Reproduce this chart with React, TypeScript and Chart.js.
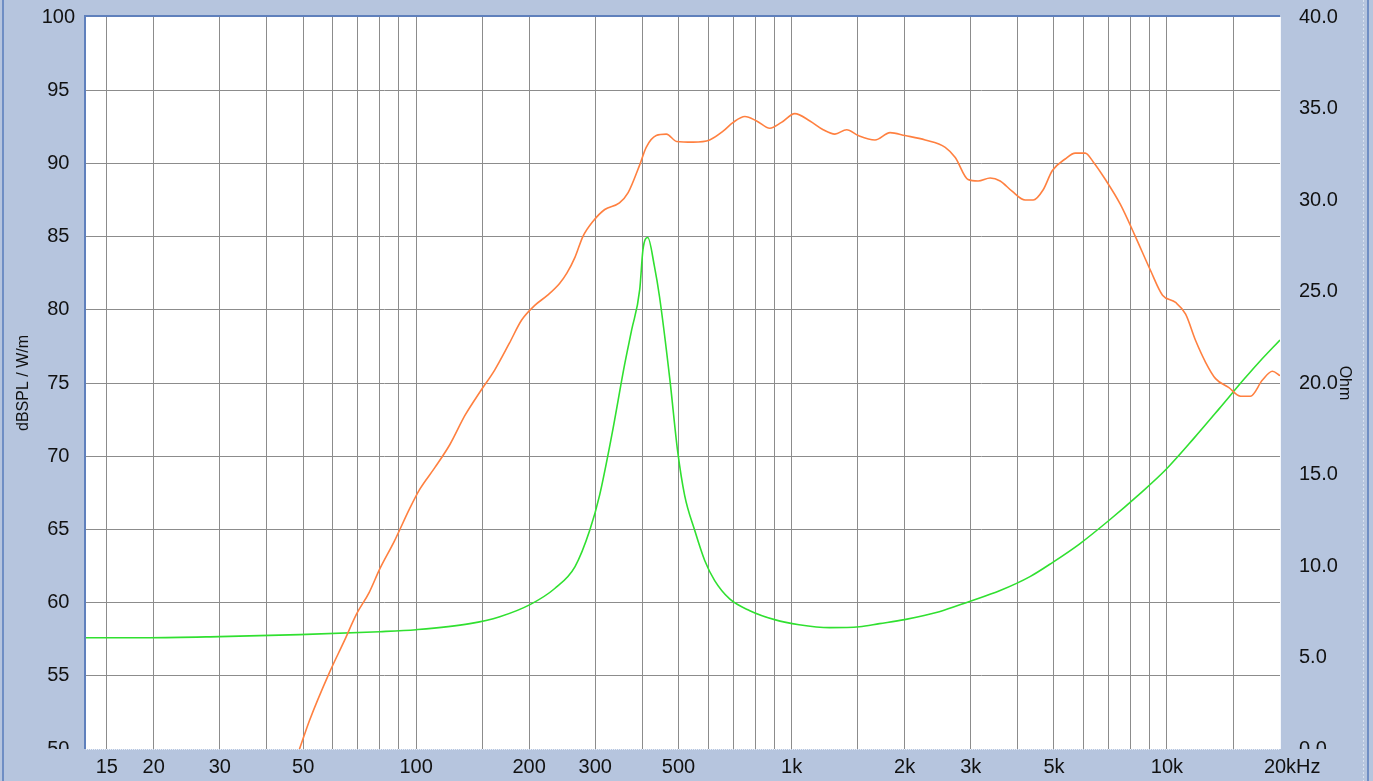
import React, { useEffect, useRef } from 'react';
import { Chart, registerables } from 'chart.js';

Chart.register(...registerables);

// ---- data ----
const splFreq = [47, 48.9, 51.9, 58.7, 64.4, 69.3, 75, 80, 87.5, 96, 102, 112, 123, 135, 148, 162, 177, 191, 207, 224, 241, 252, 265, 278, 296, 318, 348, 367, 394, 410, 436, 464, 494, 547, 605, 657, 699, 751, 807, 875, 940, 1020, 1119, 1214, 1304, 1402, 1506, 1668, 1829, 2006, 2270, 2566, 2729, 2951, 3140, 3381, 3594, 3866, 4188, 4403, 4680, 4946, 5357, 5697, 6056, 6362, 6853, 7514, 8239, 9034, 9729, 10540, 11210, 11918, 12680, 13470, 14590, 15710, 16680, 17960, 19090, 20000];
const splDb = [48.8, 50.0, 51.9, 55.2, 57.4, 59.2, 60.7, 62.3, 64.2, 66.4, 67.7, 69.2, 70.8, 72.8, 74.4, 75.9, 77.7, 79.3, 80.3, 81.0, 81.8, 82.5, 83.6, 85.0, 86.05, 86.85, 87.3, 88.0, 89.9, 91.1, 91.9, 92.0, 91.5, 91.45, 91.6, 92.2, 92.8, 93.2, 92.9, 92.4, 92.8, 93.4, 92.9, 92.3, 92.0, 92.3, 91.9, 91.6, 92.1, 91.9, 91.6, 91.1, 90.4, 88.9, 88.8, 89.0, 88.8, 88.1, 87.5, 87.5, 88.2, 89.5, 90.3, 90.7, 90.7, 90.1, 88.9, 87.2, 85.0, 82.7, 81.0, 80.5, 79.7, 77.9, 76.4, 75.3, 74.7, 74.1, 74.1, 75.2, 75.8, 75.5];

const impFreq = [13, 19.4, 29.9, 48.9, 80, 100, 139, 167, 201, 234, 265, 290, 308, 332, 359, 375, 394, 402, 414, 431, 445, 474, 497, 519, 552, 587, 624, 684, 774, 901, 1047, 1263, 1516, 1714, 2000, 2474, 2966, 3594, 4316, 4962, 5844, 7014, 8419, 9965, 11820, 13780, 16030, 17610, 20000];
const impOhm = [6.08, 6.08, 6.14, 6.25, 6.41, 6.52, 6.85, 7.23, 7.89, 8.77, 9.97, 11.95, 13.86, 17.15, 20.99, 22.9, 25.1, 27.3, 27.95, 26.4, 24.7, 20.2, 16.3, 13.86, 11.95, 10.3, 9.2, 8.2, 7.56, 7.07, 6.79, 6.63, 6.68, 6.85, 7.07, 7.5, 8.05, 8.66, 9.42, 10.2, 11.2, 12.5, 13.9, 15.3, 17.0, 18.6, 20.2, 21.15, 22.35];

const xGridValues = [15, 20, 30, 40, 50, 60, 70, 80, 90, 100, 150, 200, 300, 400, 500, 600, 700, 800, 900, 1000, 1500, 2000, 3000, 4000, 5000, 6000, 7000, 8000, 9000, 10000, 15000, 20000];
const xLabelValues = [15, 20, 30, 50, 100, 200, 300, 500, 1000, 2000, 3000, 5000, 10000, 20000];
const xLabelTexts = ['15', '20', '30', '50', '100', '200', '300', '500', '1k', '2k', '3k', '5k', '10k', '20k'];
const xUnit = 'Hz';
const xMin = 13.2;
const xMax = 20000;

const dbMin = 50;
const dbMax = 100;
const dbStep = 5;
const ohmMin = 0;
const ohmMax = 40;
const ohmStep = 5;

const leftTitle = 'dBSPL / W/m';
const rightTitle = 'Ohm';

// ---- styles ----
const BG = '#B6C5DE';
const GRID = '#8C8C8C';
const TEXT = '#111111';
const FONT = "'Liberation Sans', Arial, sans-serif";
const SPL_COLOR = '#FF8040';
const IMP_COLOR = '#30E030';

const framePlugin = {
  id: 'frame',
  beforeDraw(chart: any) {
    const { ctx, width, height, chartArea: a } = chart;
    ctx.save();
    ctx.fillStyle = BG;
    ctx.fillRect(0, 0, width, height);
    ctx.fillStyle = '#FFFFFF';
    ctx.fillRect(a.left, a.top, a.right - a.left, a.bottom - a.top);
    ctx.restore();
  },
  afterDraw(chart: any) {
    const { ctx, width, height, chartArea: a } = chart;
    ctx.save();
    // hide lower half of the bottom y labels (clipped in the original)
    ctx.fillStyle = BG;
    ctx.fillRect(0, a.bottom, a.left - 2, 8);
    ctx.fillRect(a.right + 1, a.bottom, width - a.right - 1, 8);
    // sunken border: dark blue top / left
    ctx.fillStyle = '#5F80BC';
    ctx.fillRect(a.left - 2, a.top - 2, 2, a.bottom - a.top + 2);
    ctx.fillRect(a.left - 2, a.top - 2, a.right - a.left + 2, 2);
    // light dotted bottom edge
    ctx.strokeStyle = '#E8EEF8';
    ctx.lineWidth = 1;
    ctx.setLineDash([1, 1]);
    ctx.beginPath();
    ctx.moveTo(a.left, a.bottom + 0.5);
    ctx.lineTo(a.right, a.bottom + 0.5);
    ctx.stroke();
    ctx.setLineDash([]);
    // light right edge
    ctx.strokeStyle = '#F4F7FC';
    ctx.beginPath();
    ctx.moveTo(a.right + 0.5, a.top);
    ctx.lineTo(a.right + 0.5, a.bottom);
    ctx.stroke();
    // outer window edges
    ctx.fillStyle = '#6F8EC4';
    ctx.fillRect(2, 0, 2, height);
    ctx.fillRect(width - 6, 0, 2, height);
    ctx.strokeStyle = '#D8E2F0';
    ctx.setLineDash([2, 2]);
    ctx.beginPath();
    ctx.moveTo(width - 9.5, 0);
    ctx.lineTo(width - 9.5, height);
    ctx.stroke();
    ctx.setLineDash([]);
    // unit after the last x label
    const xs = chart.scales.x;
    const last = xLabelValues[xLabelValues.length - 1];
    const px = xs.getPixelForValue(last);
    ctx.font = `20px ${FONT}`;
    const w = ctx.measureText(xLabelTexts[xLabelTexts.length - 1]).width;
    ctx.fillStyle = TEXT;
    ctx.textAlign = 'left';
    ctx.textBaseline = 'middle';
    ctx.fillText(xUnit, px + w / 2, a.bottom + 6.5 + 12);
    ctx.restore();
  },
};

export default function App() {
  const ref = useRef<HTMLCanvasElement | null>(null);

  useEffect(() => {
    document.body.style.margin = '0';
    document.body.style.overflow = 'hidden';
    const canvas = ref.current;
    if (!canvas) return;

    const splData = splFreq.map((f, i) => ({ x: f, y: splDb[i] }));
    const impData = impFreq.map((f, i) => ({ x: f, y: impOhm[i] }));

    const chart = new Chart(canvas, {
      type: 'line',
      data: {
        datasets: [
          {
            data: splData,
            borderColor: SPL_COLOR,
            borderWidth: 1.6,
            pointRadius: 0,
            cubicInterpolationMode: 'monotone',
            yAxisID: 'y',
          },
          {
            data: impData,
            borderColor: IMP_COLOR,
            borderWidth: 1.6,
            pointRadius: 0,
            cubicInterpolationMode: 'monotone',
            yAxisID: 'y1',
          },
        ],
      },
      options: {
        responsive: false,
        animation: false,
        devicePixelRatio: 1,
        parsing: true,
        layout: { padding: { top: 17, left: 0, right: 0, bottom: 0 } },
        plugins: { legend: { display: false }, tooltip: { enabled: false } },
        events: [],
        scales: {
          x: {
            type: 'logarithmic',
            min: xMin,
            max: xMax,
            afterBuildTicks: (scale: any) => {
              scale.ticks = xGridValues.map((v) => ({ value: v }));
            },
            afterFit: (scale: any) => {
              scale.height = 32;
              scale.paddingLeft = 0;
              scale.paddingRight = 0;
            },
            grid: {
              drawTicks: false,
              lineWidth: 1,
              color: (c: any) => (c.tick && c.tick.value >= xMax ? 'rgba(0,0,0,0)' : GRID),
            },
            border: { display: false },
            ticks: {
              autoSkip: false,
              maxRotation: 0,
              minRotation: 0,
              padding: 6.5,
              color: TEXT,
              font: { family: FONT, size: 20 },
              callback: (v: any) => {
                const i = xLabelValues.indexOf(Number(v));
                return i >= 0 ? xLabelTexts[i] : '';
              },
            },
          },
          y: {
            type: 'linear',
            position: 'left',
            min: dbMin,
            max: dbMax,
            afterFit: (scale: any) => {
              scale.width = 86;
              scale.paddingTop = 0;
              scale.paddingBottom = 0;
            },
            grid: {
              drawTicks: false,
              lineWidth: 1,
              color: (c: any) =>
                c.tick && (c.tick.value <= dbMin || c.tick.value >= dbMax) ? 'rgba(0,0,0,0)' : GRID,
            },
            border: { display: false },
            ticks: {
              stepSize: dbStep,
              crossAlign: 'center',
              padding: 11,
              color: TEXT,
              font: { family: FONT, size: 20 },
              callback: (v: any) => String(v),
            },
            title: {
              display: true,
              text: leftTitle,
              color: TEXT,
              font: { family: FONT, size: 16 },
              padding: { top: 14, bottom: 0 },
            },
          },
          y1: {
            type: 'linear',
            position: 'right',
            min: ohmMin,
            max: ohmMax,
            afterFit: (scale: any) => {
              scale.width = 93;
              scale.paddingTop = 0;
              scale.paddingBottom = 0;
            },
            grid: { display: false, drawTicks: false },
            border: { display: false },
            ticks: {
              stepSize: ohmStep,
              padding: 19,
              color: TEXT,
              font: { family: FONT, size: 20 },
              callback: (v: any) => Number(v).toFixed(1),
            },
            title: {
              display: true,
              text: rightTitle,
              color: TEXT,
              font: { family: FONT, size: 16 },
              padding: { top: 19, bottom: 0 },
            },
          },
        },
      },
      plugins: [framePlugin],
    } as any);

    return () => {
      chart.destroy();
    };
  }, []);

  return (
    <canvas
      ref={ref}
      width={1373}
      height={781}
      style={{ display: 'block', width: '1373px', height: '781px' }}
    />
  );
}
